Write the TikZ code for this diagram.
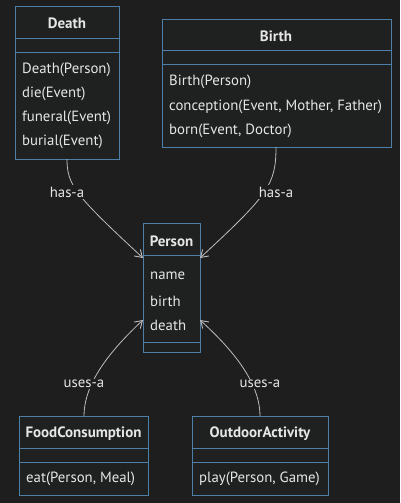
\documentclass[tikz,border=0pt]{standalone}
\usepackage{fontspec}
\setmainfont{PT Sans}
\usetikzlibrary{arrows.meta}
\definecolor{bg}{HTML}{1E1E1E}
\definecolor{boxfill}{HTML}{1F2020}
\definecolor{boxline}{HTML}{4E7FA8}
\definecolor{edgec}{HTML}{BDBDBD}
\definecolor{txt}{HTML}{E6E6E6}
\tikzset{
  boxr/.style={draw=boxline, fill=boxfill, line width=0.9pt},
  divl/.style={draw=boxline, line width=0.9pt},
  ttl/.style={text=txt, font=\fontsize{15}{17}\selectfont\bfseries, inner sep=0pt},
  mem/.style={text=txt, font=\fontsize{14.8}{17}\selectfont, inner sep=0pt, anchor=west},
  lbl/.style={text=txt, font=\fontsize{14.8}{17}\selectfont, fill=bg, inner sep=1.5pt},
  edge/.style={draw=edgec, line width=0.8pt},
  arr/.style={edge, -{Straight Barb[length=7pt,width=9pt,line width=0.9pt]}},
}
\begin{document}
\begin{tikzpicture}[x=1pt,y=-1pt]
\fill[bg] (0,0) rectangle (400,503);
\useasboundingbox (0,0) rectangle (400,503);

% Death
\draw[boxr] (15,6) rectangle (119,159);
\coordinate (deathS) at (67,159);
\draw[divl] (15,38) -- (119,38);
\draw[divl] (15,52) -- (119,52);
\node[ttl] (deathT) at (67,23) {Death};
\node[mem] (d1) at (22,70) {Death(Person)};
\node[mem] (d2) at (22,94) {die(Event)};
\node[mem] (d3) at (22,118) {funeral(Event)};
\node[mem] (d4) at (22,142) {burial(Event)};

% Birth
\draw[boxr] (162,19) rectangle (391,147);
\coordinate (birthS) at (276,147);
\draw[divl] (162,50) -- (391,50);
\draw[divl] (162,64) -- (391,64);
\node[ttl] (birthT) at (276,36) {Birth};
\node[mem] (b1) at (169,82) {Birth(Person)};
\node[mem] (b2) at (169,107) {conception(Event, Mother, Father)};
\node[mem] (b3) at (169,131) {born(Event, Doctor)};

% Person
\draw[boxr] (143,223) rectangle (200,352);
\draw[divl] (143,255) -- (200,255);
\draw[divl] (143,342) -- (200,342);
\coordinate (pUL) at (143,258);
\coordinate (pUR) at (200,258);
\coordinate (pLL) at (143,320);
\coordinate (pLR) at (200,320);
\node[ttl] (personT) at (171.5,241) {Person};
\node[mem] (p1) at (150,276) {name};
\node[mem] (p2) at (150,301) {birth};
\node[mem] (p3) at (150,325) {death};

% FoodConsumption
\draw[boxr] (19,416) rectangle (148,495);
\coordinate (foodN) at (84,416);
\draw[divl] (19,448) -- (148,448);
\draw[divl] (19,462) -- (148,462);
\node[ttl] (foodT) at (83.5,434) {FoodConsumption};
\node[mem] (f1) at (26,479) {eat(Person, Meal)};

% OutdoorActivity
\draw[boxr] (192,416) rectangle (328,495);
\coordinate (outN) at (260,416);
\draw[divl] (192,448) -- (328,448);
\draw[divl] (192,462) -- (328,462);
\node[ttl] (outT) at (260,434) {OutdoorActivity};
\node[mem] (o1) at (199,479) {play(Person, Game)};

% edges
\draw[arr] (deathS) .. controls (67,185) and (75,195) .. (pUL);
\draw[arr] (birthS) .. controls (276,185) and (268,195) .. (pUR);
\draw[arr] (foodN) .. controls (84,390) and (100,360) .. (pLL);
\draw[arr] (outN) .. controls (260,390) and (244,360) .. (pLR);

% labels
\node[lbl] (l1) at (67,192) {has-a};
\node[lbl] (l2) at (276,192) {has-a};
\node[lbl] (l3) at (84,384) {uses-a};
\node[lbl] (l4) at (260,384) {uses-a};
\end{tikzpicture}
\end{document}
